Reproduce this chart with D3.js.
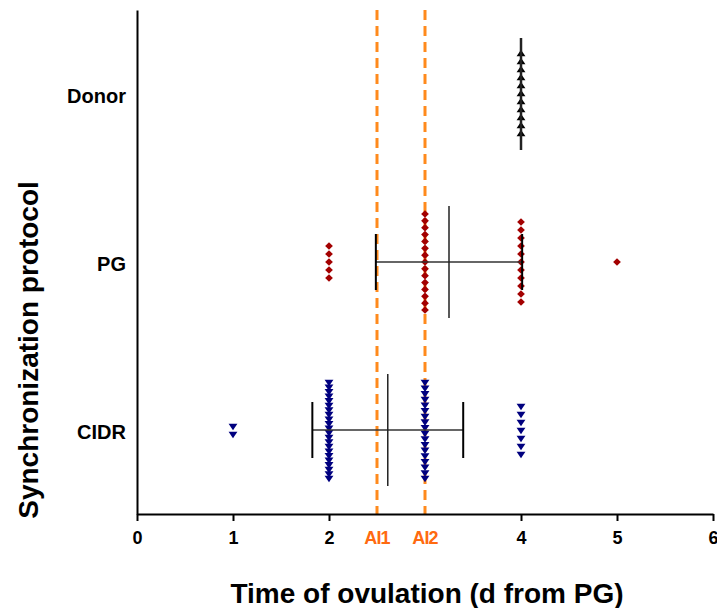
<!DOCTYPE html>
<html>
<head>
<meta charset="utf-8">
<script src="https://cdn.jsdelivr.net/npm/d3@7"></script>
<style>
  body { margin: 0; background: #fff; }
  svg { font-family: "Liberation Sans", Arial, sans-serif; }
</style>
</head>
<body>
<div id="chart"></div>
<script>
// days of ovulation and number of animals per day, per protocol
const groups = ["Donor", "PG", "CIDR"];
const days = [1, 2, 3, 4, 5];
const donorCounts = [0, 0, 0, 11, 0];
const pgCounts = [0, 5, 15, 11, 1];
const cidrCounts = [2, 22, 18, 7, 0];
const xTicks = [0, 1, 2, 4, 5, 6];
const aiDays = [2.5, 3];
const aiLabels = ["AI1", "AI2"];

const width = 717, height = 608;
const margin = { top: 10, right: 4, bottom: 94, left: 137 };

const svg = d3.select("#chart").append("svg")
  .attr("width", width)
  .attr("height", height);

const x = d3.scaleLinear()
  .domain([0, 6])
  .range([margin.left, width - margin.right]);

const y = d3.scaleBand()
  .domain(groups)
  .range([margin.top, height - margin.bottom]);

const series = [
  { key: "Donor", counts: donorCounts, color: "#000000", symbol: "up" },
  { key: "PG", counts: pgCounts, color: "#a30000", symbol: "diamond" },
  { key: "CIDR", counts: cidrCounts, color: "#00007f", symbol: "down" }
];

// expand counts into single observations
series.forEach(s => {
  s.values = [];
  days.forEach((d, i) => {
    for (let k = 0; k < s.counts[i]; k++) s.values.push(d);
  });
  s.mean = d3.mean(s.values);
  s.sd = s.values.length > 1 ? d3.deviation(s.values) : 0;
});

// AI reference lines
svg.append("g")
  .selectAll("line")
  .data(aiDays)
  .join("line")
  .attr("x1", d => x(d))
  .attr("x2", d => x(d))
  .attr("y1", margin.top)
  .attr("y2", height - margin.bottom)
  .attr("stroke", "#ff8a1c")
  .attr("stroke-width", 3)
  .attr("stroke-dasharray", "10,6");

// points, stacked vertically around the group centre
const step = 8, maxHalf = 48;
const symTri = d3.symbol().type(d3.symbolTriangle).size(34)();
const symSq = d3.symbol().type(d3.symbolSquare).size(30)();

series.forEach(s => {
  const cy = y(s.key) + y.bandwidth() / 2;
  const pts = [];
  days.forEach((d, i) => {
    const n = s.counts[i];
    if (!n) return;
    let sp = step;
    if ((n - 1) * sp / 2 > maxHalf) sp = 2 * maxHalf / (n - 1);
    for (let k = 0; k < n; k++) {
      pts.push({ day: d, dy: (k - (n - 1) / 2) * sp });
    }
  });
  const rot = s.symbol === "down" ? 180 : (s.symbol === "diamond" ? 45 : 0);
  svg.append("g").attr("class", "pts-" + s.key)
    .selectAll("path")
    .data(pts)
    .join("path")
    .attr("transform", d => `translate(${x(d.day)},${cy + d.dy}) rotate(${rot})` +
      (s.symbol === "diamond" ? "" : " scale(1,0.85)"))
    .attr("d", s.symbol === "diamond" ? symSq : symTri)
    .attr("fill", s.color);
});

// mean and SD bars
series.forEach(s => {
  const cy = y(s.key) + y.bandwidth() / 2;
  const g = svg.append("g").attr("class", "err-" + s.key);
  g.append("line")
    .attr("x1", x(s.mean - s.sd)).attr("x2", x(s.mean + s.sd))
    .attr("y1", cy).attr("y2", cy)
    .attr("stroke", "#333").attr("stroke-width", 1.5);
  [s.mean - s.sd, s.mean + s.sd].forEach(v => {
    g.append("line")
      .attr("x1", x(v)).attr("x2", x(v))
      .attr("y1", cy - 28).attr("y2", cy + 28)
      .attr("stroke", "#000").attr("stroke-width", 2);
  });
  g.append("line")
    .attr("x1", x(s.mean)).attr("x2", x(s.mean))
    .attr("y1", cy - 56).attr("y2", cy + 56)
    .attr("stroke", "#222").attr("stroke-width", s.sd === 0 ? 2.5 : 1.5);
});

// x axis
const xAxis = svg.append("g")
  .attr("transform", `translate(0,${height - margin.bottom})`)
  .call(d3.axisBottom(x).tickValues(xTicks).tickFormat(d3.format("d")).tickSize(7).tickSizeOuter(0).tickPadding(0));
xAxis.select(".domain").attr("stroke", "#000").attr("stroke-width", 2);
xAxis.selectAll(".tick line").attr("stroke", "#000").attr("stroke-width", 2);
xAxis.selectAll(".tick text")
  .attr("fill", "#000")
  .attr("dy", null)
  .attr("y", 30)
  .style("font-size", "18px")
  .style("font-weight", "bold");

// AI labels under the axis
svg.append("g")
  .selectAll("text")
  .data(aiDays)
  .join("text")
  .attr("x", d => x(d))
  .attr("y", height - margin.bottom + 30)
  .attr("text-anchor", "middle")
  .attr("fill", "#ff6a10")
  .style("font-size", "18px")
  .style("font-weight", "bold")
  .style("letter-spacing", "-0.8px")
  .text((d, i) => aiLabels[i]);

// y axis
const yAxis = svg.append("g")
  .attr("transform", `translate(${margin.left},0)`)
  .call(d3.axisLeft(y).tickSize(0).tickSizeOuter(0).tickPadding(11));
yAxis.select(".domain").attr("stroke", "#000").attr("stroke-width", 2);
yAxis.selectAll(".tick text")
  .attr("fill", "#000")
  .attr("dy", "0.45em")
  .style("font-size", "20px")
  .style("font-weight", "bold");

// axis titles
svg.append("text")
  .attr("x", 427)
  .attr("y", 603)
  .attr("text-anchor", "middle")
  .style("font-size", "28px")
  .style("font-weight", "bold")
  .text("Time of ovulation (d from PG)");

svg.append("text")
  .attr("transform", `translate(38,350) rotate(-90)`)
  .attr("text-anchor", "middle")
  .style("font-size", "28px")
  .style("font-weight", "bold")
  .text("Synchronization protocol");
</script>
</body>
</html>
